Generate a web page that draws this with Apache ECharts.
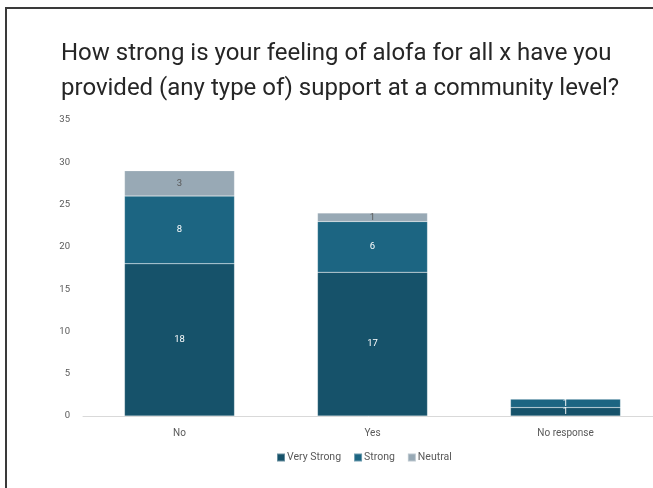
<!DOCTYPE html>
<html>
<head>
<meta charset="utf-8">
<script src="https://cdn.jsdelivr.net/npm/echarts@6/dist/echarts.min.js"></script>
<style>
  html,body{margin:0;padding:0;background:#fff;}
  #chart{width:653px;height:488px;}
</style>
</head>
<body>
<div id="chart"></div>
<script>
  var categories=['No','Yes','No response']
  var veryStrong=[18,17,1]
  var strong=[8,6,1]
  var neutral=[3,1,0]
  var yTicks=[0,5,10,15,20,25,30,35]

  var chart=echarts.init(document.getElementById('chart'))

  var labelFor=function (color) {
    return {
      show:true,
      position:'inside',
      color:color,
      fontSize:9.5,
      fontFamily:'Roboto',
      formatter:function (p) {
        return p.value?p.value:''
      }
    }
  }

  var option={
    animation:false,
    title:{
      text:'How strong is your feeling of alofa for all x have you\nprovided (any type of) support at a community level?',
      left:56,
      top:31,
      textStyle:{
        color:'#262626',
        fontSize:24,
        fontWeight:'normal',
        fontFamily:'Roboto',
        lineHeight:35
      }
    },
    graphic:[{
      type:'rect',
      shape:{x:6,y:8,width:700,height:600},
      style:{fill:'none',stroke:'#3a3a3a',lineWidth:2}
    }],
    legend:{
      top:447,
      left:271,
      itemWidth:8,
      itemHeight:8,
      itemGap:12,
      icon:'rect',
      textStyle:{color:'#595959',fontSize:10.5,fontFamily:'Roboto',padding:[0,0,0,-3]},
      data:['Very Strong','Strong','Neutral']
    },
    grid:{
      left:83,
      top:120,
      width:579,
      height:296,
      outerBoundsMode:'none'
    },
    xAxis:{
      type:'category',
      data:categories,
      axisLine:{lineStyle:{color:'#d9d9d9'}},
      axisTick:{show:false},
      axisLabel:{color:'#595959',fontSize:10,fontFamily:'Roboto',margin:12}
    },
    yAxis:{
      type:'value',
      min:yTicks[0],
      max:yTicks[yTicks.length-1],
      interval:5,
      splitLine:{show:false},
      axisLine:{show:false},
      axisLabel:{color:'#595959',fontSize:9.5,fontFamily:'Roboto',margin:13}
    },
    series:[{
      name:'Very Strong',
      type:'bar',
      stack:'total',
      barWidth:'57%',
      data:veryStrong,
      itemStyle:{color:'#16526a',borderColor:'rgba(255,255,255,0.35)',borderWidth:0.5},
      label:labelFor('#ffffff')
    },{
      name:'Strong',
      type:'bar',
      stack:'total',
      data:strong,
      itemStyle:{color:'#1c6582',borderColor:'rgba(255,255,255,0.35)',borderWidth:0.5},
      label:labelFor('#ffffff')
    },{
      name:'Neutral',
      type:'bar',
      stack:'total',
      data:neutral,
      itemStyle:{color:'#98a9b5',borderColor:'rgba(255,255,255,0.35)',borderWidth:0.5},
      label:labelFor('#595959')
    }]
  }

  chart.setOption(option)
</script>
</body>
</html>
